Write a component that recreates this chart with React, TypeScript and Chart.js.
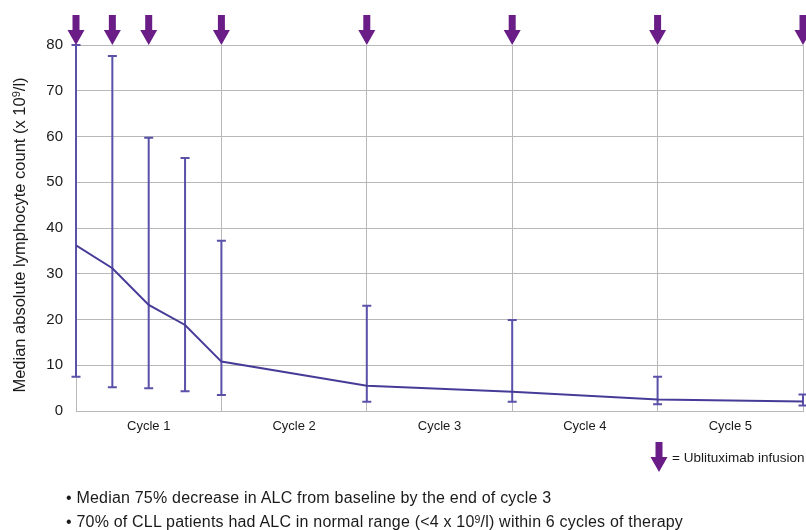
import React, { useEffect, useRef } from 'react';
import { Chart, registerables } from 'chart.js';

Chart.register(...registerables);

// ---- data (weeks from start of therapy) ----
const weeks = [0, 1, 2, 3, 4, 8, 12, 16, 20];
const medianALC = [36.2, 31.2, 23.2, 18.8, 10.8, 5.5, 4.2, 2.5, 2.1];
const lowerALC = [7.5, 5.2, 5.0, 4.3, 3.5, 2.0, 2.0, 1.5, 1.2];
const upperALC = [80, 77.6, 59.7, 55.3, 37.2, 23.0, 19.9, 7.5, 3.6];
const infusionWeeks = [0, 1, 2, 4, 8, 12, 16, 20];
const cycleLabels = ['Cycle 1', 'Cycle 2', 'Cycle 3', 'Cycle 4', 'Cycle 5'];
const cycleCenterWeeks = [2, 6, 10, 14, 18];
const xTickWeeks = [0, 2, 4, 6, 8, 10, 12, 14, 16, 18, 20];
const yMin = 0;
const yMax = 80;
const yStep = 10;

const FONT = '"Liberation Sans", Arial, Helvetica, sans-serif';
const LINE_COLOR = '#463C98';
const ERR_COLOR = '#5A51A8';
const ARROW_COLOR = '#6A1D87';
const GRID_COLOR = '#B8B8B8';
const TEXT_COLOR = '#1a1a1a';

function drawArrow(ctx: CanvasRenderingContext2D, cx: number, tipY: number) {
  ctx.beginPath();
  ctx.moveTo(cx - 3.5, tipY - 30);
  ctx.lineTo(cx + 3.5, tipY - 30);
  ctx.lineTo(cx + 3.5, tipY - 15);
  ctx.lineTo(cx + 8.5, tipY - 15);
  ctx.lineTo(cx, tipY);
  ctx.lineTo(cx - 8.5, tipY - 15);
  ctx.lineTo(cx - 3.5, tipY - 15);
  ctx.closePath();
  ctx.fill();
}

const errorBarPlugin = {
  id: 'errorBars',
  beforeDatasetsDraw(chart: any) {
    const { ctx, scales } = chart;
    const xs = scales.x;
    const ys = scales.y;
    ctx.save();
    ctx.strokeStyle = ERR_COLOR;
    ctx.lineWidth = 2;
    weeks.forEach((w, i) => {
      const x = xs.getPixelForValue(w);
      const yl = ys.getPixelForValue(lowerALC[i]);
      const yh = ys.getPixelForValue(upperALC[i]);
      ctx.beginPath();
      ctx.moveTo(x, yl);
      ctx.lineTo(x, yh);
      ctx.moveTo(x - 4.5, yl);
      ctx.lineTo(x + 4.5, yl);
      ctx.moveTo(x - 4.5, yh);
      ctx.lineTo(x + 4.5, yh);
      ctx.stroke();
    });
    ctx.restore();
  },
};

const infusionPlugin = {
  id: 'infusionArrows',
  afterDraw(chart: any) {
    const { ctx, scales, chartArea } = chart;
    ctx.save();
    ctx.fillStyle = ARROW_COLOR;
    infusionWeeks.forEach((w) => {
      drawArrow(ctx, scales.x.getPixelForValue(w), chartArea.top);
    });
    ctx.restore();
  },
};

function ALCChart() {
  const ref = useRef<HTMLCanvasElement | null>(null);
  useEffect(() => {
    if (!ref.current) return;
    const chart = new Chart(ref.current, {
      type: 'line',
      data: {
        datasets: [
          {
            label: 'Median ALC',
            data: weeks.map((w, i) => ({ x: w, y: medianALC[i] })),
            borderColor: LINE_COLOR,
            borderWidth: 2,
            pointRadius: 0,
            tension: 0,
            fill: false,
          },
        ],
      },
      options: {
        responsive: false,
        animation: false,
        devicePixelRatio: 1,
        layout: { padding: { top: 45, right: 3, left: 0, bottom: 0 } },
        plugins: {
          legend: { display: false },
          tooltip: { enabled: false },
        },
        scales: {
          x: {
            type: 'linear',
            min: 0,
            max: 20,
            afterBuildTicks: (s: any) => {
              s.ticks = xTickWeeks.map((v) => ({ value: v }));
            },
            afterFit: (s: any) => {
              s.height = 119;
              s.paddingLeft = 0;
              s.paddingRight = 0;
            },
            ticks: {
              autoSkip: false,
              maxRotation: 0,
              padding: 8,
              color: TEXT_COLOR,
              font: { family: FONT, size: 13 },
              callback: (v: any) => {
                const idx = cycleCenterWeeks.indexOf(Number(v));
                return idx >= 0 ? cycleLabels[idx] : '';
              },
            },
            grid: {
              drawTicks: false,
              color: (c: any) =>
                c.tick && Number(c.tick.value) % 4 === 0 ? GRID_COLOR : 'rgba(0,0,0,0)',
              lineWidth: 1,
            },
            border: { color: GRID_COLOR },
          },
          y: {
            min: yMin,
            max: yMax,
            afterFit: (s: any) => {
              s.width = 76;
            },
            ticks: {
              stepSize: yStep,
              padding: 13,
              color: TEXT_COLOR,
              font: { family: FONT, size: 15 },
            },
            grid: { drawTicks: false, color: GRID_COLOR, lineWidth: 1 },
            border: { color: GRID_COLOR },
          },
        },
      },
      plugins: [errorBarPlugin, infusionPlugin],
    } as any);
    return () => chart.destroy();
  }, []);
  return (
    <canvas
      ref={ref}
      width={806}
      height={530}
      style={{ position: 'absolute', left: 0, top: 0, width: 806, height: 530 }}
    />
  );
}

export default function App() {
  return (
    <div
      style={{
        position: 'fixed',
        left: 0,
        top: 0,
        width: 806,
        height: 530,
        background: '#fff',
        overflow: 'hidden',
        fontFamily: FONT,
        color: TEXT_COLOR,
      }}
    >
      <ALCChart />
      <div
        style={{
          position: 'absolute',
          left: 19 - 170,
          top: 235 - 10,
          width: 340,
          height: 20,
          lineHeight: '20px',
          textAlign: 'center',
          fontSize: 16.5,
          whiteSpace: 'nowrap',
          transform: 'rotate(-90deg)',
          transformOrigin: '50% 50%',
        }}
      >
        Median absolute lymphocyte count (x 10
        <sup style={{ fontSize: 11, verticalAlign: 'top', lineHeight: '14px' }}>9</sup>/l)
      </div>
      <div style={{ position: 'absolute', left: 650, top: 442 }}>
        <svg width={18} height={30} viewBox="0 0 18 30">
          <polygon points="5.5,0 12.5,0 12.5,15 17.5,15 9,30 0.5,15 5.5,15" fill={ARROW_COLOR} />
        </svg>
      </div>
      <div style={{ position: 'absolute', left: 672, top: 450, fontSize: 13.5, whiteSpace: 'nowrap' }}>
        = Ublituximab infusion
      </div>
      <div
        style={{
          position: 'absolute',
          left: 66,
          top: 486,
          fontSize: 16,
          letterSpacing: '0.2px',
          lineHeight: '24px',
          whiteSpace: 'nowrap',
        }}
      >
        <div>• Median 75% decrease in ALC from baseline by the end of cycle 3</div>
        <div>
          • 70% of CLL patients had ALC in normal range (&lt;4 x 10
          <sup style={{ fontSize: 10.5, verticalAlign: 'top', lineHeight: '18px' }}>9</sup>/l) within 6 cycles of therapy
        </div>
      </div>
    </div>
  );
}
